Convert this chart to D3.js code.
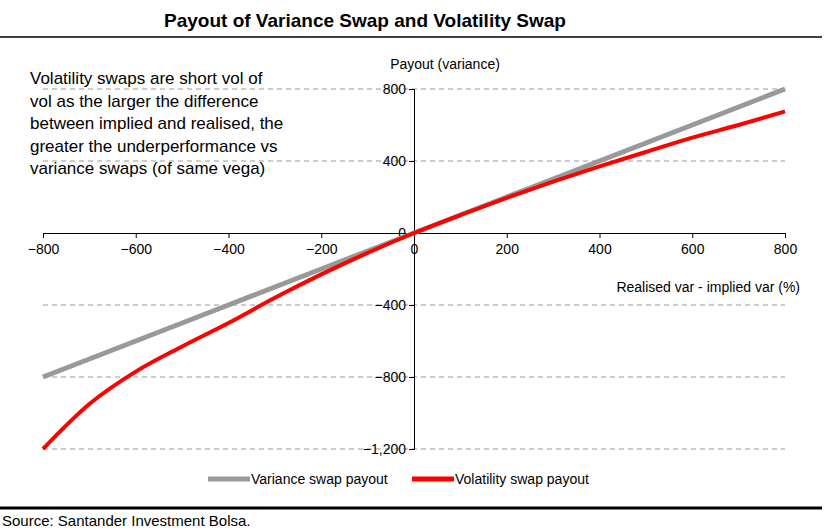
<!DOCTYPE html>
<html><head><meta charset="utf-8">
<script src="https://cdn.jsdelivr.net/npm/d3@7"></script>
<style>body{margin:0;background:#fff;font-family:"Liberation Sans",Arial,sans-serif;}</style>
</head><body><svg id="chart" width="831" height="531"></svg>
<script>
const xValues = [-800,-700,-600,-500,-400,-300,-200,-100,0,100,200,300,400,500,600,700,800];
const varianceSwap = [-800,-700,-600,-500,-400,-300,-200,-100,0,100,200,300,400,500,600,700,800];
const volatilitySwap = [-1200,-950,-770,-630,-500,-360,-230,-110,0,100,195,285,370,450,530,600,675];
const xTicks = [-800,-600,-400,-200,0,200,400,600,800];
const yTicks = [800,400,0,-400,-800,-1200];
const gridTicks = [800,400,-400,-800,-1200];

const svg = d3.select("#chart");
const x = d3.scaleLinear().domain([-800,800]).range([43,785]);
const y = d3.scaleLinear().domain([-1200,800]).range([449,89]);

// title and rules
svg.append("text").attr("x",365).attr("y",27).attr("text-anchor","middle")
  .attr("font-size",19).attr("font-weight","bold").text("Payout of Variance Swap and Volatility Swap");
svg.append("line").attr("x1",0).attr("x2",822).attr("y1",37).attr("y2",37).attr("stroke","#000").attr("stroke-width",1.5);
svg.append("line").attr("x1",0).attr("x2",822).attr("y1",508).attr("y2",508).attr("stroke","#000").attr("stroke-width",3);
svg.append("text").attr("x",2).attr("y",526).attr("font-size",15).text("Source: Santander Investment Bolsa.");

// grid lines
svg.selectAll(".grid").data(gridTicks).enter().append("line")
  .attr("x1",x(-800)).attr("x2",x(800)).attr("y1",d=>y(d)).attr("y2",d=>y(d))
  .attr("stroke","#999").attr("stroke-dasharray","5,4");

// axes
const xAxis = svg.append("g").attr("transform",`translate(0,${y(0)})`)
  .call(d3.axisBottom(x).tickValues(xTicks).tickSize(5).tickPadding(6));
const yAxis = svg.append("g").attr("transform",`translate(${x(0)},0)`)
  .call(d3.axisLeft(y).tickValues(yTicks).tickSize(5).tickPadding(3));
[xAxis,yAxis].forEach(g=>{
  g.selectAll("text").attr("font-size",14).attr("font-family","Liberation Sans, Arial").attr("fill","#000");
  g.selectAll("line,.domain").attr("stroke","#000");
});
yAxis.selectAll("text").attr("dy","0.32em");

svg.append("text").attr("x",445).attr("y",69).attr("text-anchor","middle").attr("font-size",14).text("Payout (variance)");
svg.append("text").attr("x",800).attr("y",292).attr("text-anchor","end").attr("font-size",14).text("Realised var - implied var (%)");

// lines
const line = d3.line().x((d,i)=>x(xValues[i])).y(d=>y(d)).curve(d3.curveMonotoneX);
svg.append("path").datum(varianceSwap).attr("d",line).attr("fill","none").attr("stroke","#999").attr("stroke-width",5);
svg.append("path").datum(volatilitySwap).attr("d",line).attr("fill","none").attr("stroke","#f00").attr("stroke-width",4);

// annotation
const note = ["Volatility swaps are short vol of","vol as the larger the difference","between implied and realised, the","greater the underperformance vs","variance swaps (of same vega)"];
svg.append("text").attr("font-size",17).selectAll("tspan").data(note).enter().append("tspan")
  .attr("x",30).attr("y",(d,i)=>84+i*22.5).text(d=>d);

// legend
const legend = [{label:"Variance swap payout",color:"#999",x:208},{label:"Volatility swap payout",color:"#f00",x:412}];
legend.forEach(l=>{
  svg.append("line").attr("x1",l.x).attr("x2",l.x+42).attr("y1",479).attr("y2",479).attr("stroke",l.color).attr("stroke-width",5);
  svg.append("text").attr("x",l.x+43).attr("y",484).attr("font-size",14).text(l.label);
});
</script></body></html>
